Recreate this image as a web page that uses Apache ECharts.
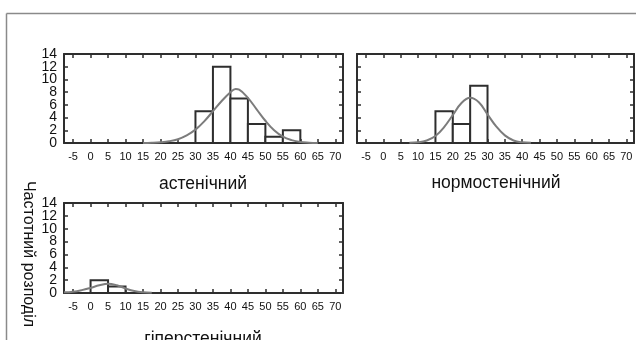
<!DOCTYPE html>
<html>
<head>
<meta charset="utf-8">
<script src="https://cdn.jsdelivr.net/npm/echarts@6/dist/echarts.min.js"></script>
<style>
  html, body { margin: 0; padding: 0; background: #fff; }
  #chart { width: 636px; height: 340px; }
</style>
</head>
<body>
<div id="chart"></div>
<script>
// Histogram bins (left edge of each 5-unit bin) and counts per body type
const BIN_WIDTH = 5;
const asthenicBins = [30, 35, 40, 45, 50, 55];
const asthenicCounts = [5, 12, 7, 3, 1, 2];
const normosthenicBins = [15, 20, 25];
const normosthenicCounts = [5, 3, 9];
const hypersthenicBins = [0, 5];
const hypersthenicCounts = [2, 1];

// Fitted normal curves (expected frequency per bin)
const asthenicCurveX = [15, 17.5, 20, 22.5, 25, 27.5, 30, 32.5, 35, 37.5, 40, 41.5, 42.5, 45, 47.5, 50, 52.5, 55, 57.5, 60, 62.5, 65];
const asthenicCurveY = [0, 0.04, 0.12, 0.28, 0.6, 1.2, 2.1, 3.4, 5.0, 6.6, 8.0, 8.5, 8.4, 7.1, 5.3, 3.5, 2.0, 1.0, 0.45, 0.15, 0.05, 0];
const normosthenicCurveX = [7.5, 10, 12.5, 15, 17.5, 20, 22.5, 25, 27.5, 30, 32.5, 35, 37.5, 40, 42.5];
const normosthenicCurveY = [0.02, 0.1, 0.4, 1.1, 2.5, 4.4, 6.3, 7.1, 6.4, 4.5, 2.6, 1.2, 0.4, 0.1, 0.02];
const hypersthenicCurveX = [-7.6, -5, -2.5, 0, 2.5, 5, 7.5, 10, 12.5, 15, 17.5];
const hypersthenicCurveY = [0.1, 0.2, 0.45, 0.8, 1.2, 1.45, 1.2, 0.7, 0.3, 0.1, 0.02];

// Axis ticks and labels
const xTickValues = [-5, 0, 5, 10, 15, 20, 25, 30, 35, 40, 45, 50, 55, 60, 65, 70];
const yTickValues = [0, 2, 4, 6, 8, 10, 12, 14];
// the tightly packed y numbers are split over two overlaid axes so none get dropped
const yLabelsA = [0, 4, 8, 12];
const yLabelsB = [2, 6, 10, 14];
const X_MIN = -7.6, X_MAX = 72.2;
const Y_MIN = 0, Y_MAX = 14;

const panelTitles = ['астенічний', 'нормостенічний', 'гіперстенічний'];
const yAxisTitle = 'Частотний розподіл';

const FONT = '"Liberation Sans", Arial, sans-serif';
const FRAME = '#2e2e2e';
const CURVE = '#7c7c7c';

const grids = [
  { left: 64, top: 54, width: 279, height: 89 },
  { left: 357, top: 54, width: 277, height: 89 },
  { left: 64, top: 203, width: 279, height: 90 }
];
// only the left-hand panels carry y-axis numbers
const showYLabels = [true, false, true];

const panels = [
  { bins: asthenicBins, counts: asthenicCounts, cx: asthenicCurveX, cy: asthenicCurveY },
  { bins: normosthenicBins, counts: normosthenicCounts, cx: normosthenicCurveX, cy: normosthenicCurveY },
  { bins: hypersthenicBins, counts: hypersthenicCounts, cx: hypersthenicCurveX, cy: hypersthenicCurveY }
];

const axisLine = { show: true, onZero: false, lineStyle: { color: FRAME, width: 2 } };
const tickStyle = { color: FRAME, width: 1.5 };
const yLabelStyle = { show: true, margin: 7, hideOverlap: false, showMinLabel: true, showMaxLabel: true,
                      color: '#111', fontSize: 14, fontFamily: FONT };

const xAxes = [], yAxes = [], series = [];
grids.forEach((g, i) => {
  const xIndex = xAxes.length;
  ['bottom', 'top'].forEach((pos) => {
    xAxes.push({
      type: 'value', gridIndex: i, position: pos, min: X_MIN, max: X_MAX,
      axisLine: axisLine,
      axisTick: { show: true, inside: true, length: 4, lineStyle: tickStyle, customValues: xTickValues },
      axisLabel: pos === 'bottom'
        ? { show: true, customValues: xTickValues, margin: 8, hideOverlap: false,
            color: '#111', fontSize: 11, fontFamily: FONT }
        : { show: false },
      splitLine: { show: false }
    });
  });

  const yIndex = yAxes.length;
  yAxes.push({
    type: 'value', gridIndex: i, position: 'left', min: Y_MIN, max: Y_MAX,
    axisLine: axisLine,
    axisTick: { show: true, inside: true, length: 4, lineStyle: tickStyle, customValues: yTickValues },
    axisLabel: showYLabels[i] ? Object.assign({ customValues: yLabelsA }, yLabelStyle) : { show: false },
    splitLine: { show: false }
  });
  yAxes.push({
    type: 'value', gridIndex: i, position: 'right', min: Y_MIN, max: Y_MAX,
    axisLine: axisLine,
    axisTick: { show: true, inside: true, length: 4, lineStyle: tickStyle, customValues: yTickValues },
    axisLabel: { show: false },
    splitLine: { show: false }
  });
  if (showYLabels[i]) {
    yAxes.push({
      type: 'value', gridIndex: i, position: 'left', min: Y_MIN, max: Y_MAX,
      axisLine: { show: false }, axisTick: { show: false },
      axisLabel: Object.assign({ customValues: yLabelsB }, yLabelStyle),
      splitLine: { show: false }
    });
  }

  const p = panels[i];
  series.push({
    type: 'custom',
    xAxisIndex: xIndex, yAxisIndex: yIndex,
    data: p.bins.map((b, k) => [b, p.counts[k]]),
    encode: { x: 0, y: 1 },
    z: 2,
    renderItem: (params, api) => {
      const start = api.value(0), h = api.value(1);
      const tl = api.coord([start, h]);
      const br = api.coord([start + BIN_WIDTH, 0]);
      return {
        type: 'rect',
        shape: { x: tl[0], y: tl[1], width: br[0] - tl[0], height: br[1] - tl[1] },
        style: { fill: '#fff', stroke: FRAME, lineWidth: 2 }
      };
    }
  });
  series.push({
    type: 'line',
    xAxisIndex: xIndex, yAxisIndex: yIndex,
    data: p.cx.map((x, k) => [x, p.cy[k]]),
    smooth: 0.4,
    showSymbol: false,
    z: 3,
    lineStyle: { color: CURVE, width: 2 },
    clip: true
  });
});

const titleStyle = { fill: '#111', fontSize: 17.5, fontFamily: FONT, align: 'center', verticalAlign: 'middle' };

const chart = echarts.init(document.getElementById('chart'), null, { renderer: 'canvas' });
chart.setOption({
  animation: false,
  backgroundColor: '#fff',
  grid: grids.map(g => Object.assign({ containLabel: false }, g)),
  xAxis: xAxes,
  yAxis: yAxes,
  series: series,
  graphic: [
    { type: 'line', shape: { x1: 6.5, y1: 13.5, x2: 636, y2: 13.5 }, style: { stroke: '#8a8a8a', lineWidth: 1.5 } },
    { type: 'line', shape: { x1: 6.5, y1: 13.5, x2: 6.5, y2: 340 }, style: { stroke: '#8a8a8a', lineWidth: 1.5 } },
    { type: 'text', x: 203, y: 184, style: Object.assign({ text: panelTitles[0] }, titleStyle) },
    { type: 'text', x: 496, y: 183, style: Object.assign({ text: panelTitles[1] }, titleStyle) },
    { type: 'text', x: 203, y: 339, style: Object.assign({ text: panelTitles[2] }, titleStyle) },
    { type: 'text', x: 28, y: 254, rotation: -Math.PI / 2,
      style: { text: yAxisTitle, fill: '#111', fontSize: 16, fontFamily: FONT, align: 'center', verticalAlign: 'middle' } }
  ]
});
</script>
</body>
</html>
